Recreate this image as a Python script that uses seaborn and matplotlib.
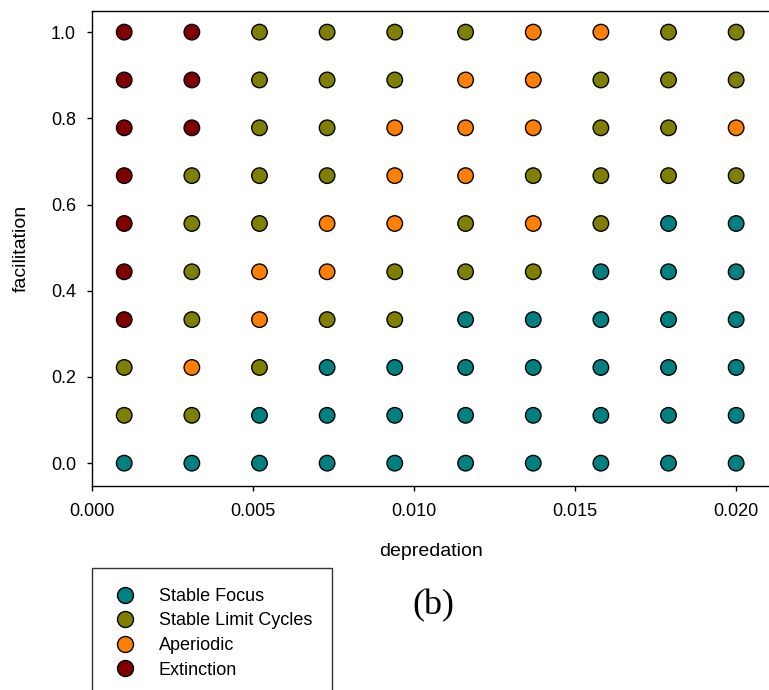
import matplotlib
matplotlib.use("Agg")
import matplotlib.pyplot as plt
from matplotlib.lines import Line2D
import seaborn as sns
import pandas as pd

# ---- data ----
depredation = [0.001, 0.0031, 0.0052, 0.0073, 0.0094, 0.0116, 0.0137, 0.0158, 0.0179, 0.020]
facilitation = [0.0, 0.111, 0.222, 0.333, 0.444, 0.556, 0.667, 0.778, 0.889, 1.0]
# regime codes per facilitation row (bottom to top); F=Stable Focus, L=Stable Limit Cycles, A=Aperiodic, E=Extinction
regime_rows = [
    "FFFFFFFFFF",
    "LLFFFFFFFF",
    "LALFFFFFFF",
    "ELALLFFFFF",
    "ELAALLLFFF",
    "ELLAALALFF",
    "ELLLAALLLL",
    "EELLAAALLA",
    "EELLLAALLL",
    "EELLLLAALL",
]
regime_names = {"F": "Stable Focus", "L": "Stable Limit Cycles", "A": "Aperiodic", "E": "Extinction"}
regime_order = ["Stable Focus", "Stable Limit Cycles", "Aperiodic", "Extinction"]
regime_colors = ["#008080", "#808000", "#FF8000", "#800000"]

records = []
for yi, row in zip(facilitation, regime_rows):
    for xi, code in zip(depredation, row):
        records.append({"depredation": xi, "facilitation": yi, "regime": regime_names[code]})
df = pd.DataFrame(records)

# ---- style ----
sns.set_theme(style="white")
plt.rcParams["font.family"] = ["Liberation Sans", "DejaVu Sans"]
plt.rcParams["text.color"] = "black"

W, H = 769, 690
fig = plt.figure(figsize=(W / 100, H / 100), dpi=100)
ax = fig.add_axes([92 / W, 1 - 486 / H, (769 - 92) / W, (486 - 11) / H])

palette = dict(zip(regime_order, regime_colors))
sns.scatterplot(data=df, x="depredation", y="facilitation", hue="regime",
                hue_order=regime_order, palette=palette, s=125,
                edgecolor="black", linewidth=1.0, legend=False, ax=ax, zorder=3)

ax.set_xlim(0, 0.02102)
ax.set_ylim(-0.053, 1.049)
ax.set_xticks([0.0, 0.005, 0.010, 0.015, 0.020])
ax.set_xticklabels(["0.000", "0.005", "0.010", "0.015", "0.020"])
ax.set_yticks([0.0, 0.2, 0.4, 0.6, 0.8, 1.0])
ax.set_yticklabels(["0.0", "0.2", "0.4", "0.6", "0.8", "1.0"])
ax.tick_params(axis="both", direction="out", length=3.6, width=1, color="black",
               labelsize=13, labelcolor="black")
ax.tick_params(axis="x", pad=9, bottom=True)
ax.tick_params(axis="y", pad=8, left=True)
for side in ["left", "bottom", "top"]:
    ax.spines[side].set_visible(True)
    ax.spines[side].set_color("black")
    ax.spines[side].set_linewidth(1.0)
ax.spines["right"].set_visible(False)
ax.set_xlabel("depredation", fontsize=14, color="black", labelpad=16)
ax.set_ylabel("facilitation", fontsize=14, color="black", labelpad=15)
ax.grid(False)

handles = [Line2D([0], [0], marker="o", linestyle="none", markersize=11.5,
                  markerfacecolor=c, markeredgecolor="black", markeredgewidth=1.0)
           for c in regime_colors]
leg = fig.legend(handles, regime_order, loc="upper left",
                 bbox_to_anchor=(92 / W, 1 - 568 / H), bbox_transform=fig.transFigure,
                 borderaxespad=0, fontsize=13, frameon=True, fancybox=False,
                 borderpad=1.1, handlelength=1.45, handletextpad=1.15,
                 labelspacing=0.42, labelcolor="black")
leg.get_frame().set_edgecolor("black")
leg.get_frame().set_linewidth(1.0)

fig.text(433.5 / W, 1 - 606 / H, "(b)", fontsize=26, family=["Liberation Serif", "DejaVu Serif"],
         ha="center", va="center", color="black")

fig.savefig("out.png", dpi=100)
